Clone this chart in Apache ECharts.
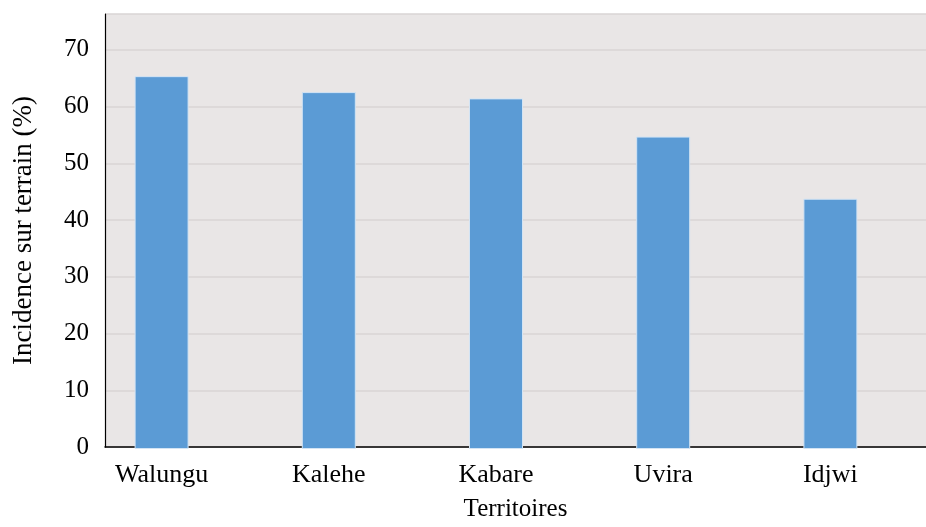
<!DOCTYPE html>
<html>
<head>
<meta charset="utf-8">
<script src="https://cdn.jsdelivr.net/npm/echarts@6/dist/echarts.min.js"></script>
<style>html,body{margin:0;padding:0;background:#fff}#c{width:926px;height:527px}</style>
</head>
<body>
<div id="c"></div>
<script>
const categories = ['Walungu', 'Kalehe', 'Kabare', 'Uvira', 'Idjwi'];
const incidence = [65.4, 62.6, 61.5, 54.8, 43.9];
const yTicks = [0, 10, 20, 30, 40, 50, 60, 70];
const yMax = 76.3;
const yTitle = 'Incidence sur terrain (%)';
const xTitle = 'Territoires';

const font = 'Liberation Serif, Times New Roman, serif';
const chart = echarts.init(document.getElementById('c'));
chart.setOption({
  animation: false,
  backgroundColor: '#ffffff',
  grid: [
    { left: 105, right: 0, top: 14, bottom: 78, show: true, backgroundColor: '#e9e6e6', borderWidth: 0 },
    { left: 78, right: 12, top: 14, bottom: 78 }
  ],
  xAxis: [
    {
      gridIndex: 0, type: 'category', data: categories,
      axisLine: { show: true, lineStyle: { color: '#000', width: 1.5 } },
      axisTick: { show: false }, axisLabel: { show: false },
      name: xTitle, nameLocation: 'middle', nameGap: 50,
      nameTextStyle: { fontFamily: font, fontSize: 25, color: '#000' }
    },
    {
      gridIndex: 1, type: 'category', data: categories,
      axisLine: { show: false }, axisTick: { show: false },
      axisLabel: { fontFamily: font, fontSize: 26, color: '#000', margin: 13 }
    }
  ],
  yAxis: [
    {
      gridIndex: 0, type: 'value', min: 0, max: yMax, interval: 10,
      axisLine: { show: true, lineStyle: { color: '#000', width: 1.2 } },
      axisTick: { show: false },
      axisLabel: {
        fontFamily: font, fontSize: 25, color: '#000', margin: 16,
        formatter: v => yTicks.includes(v) ? String(v) : ''
      },
      splitLine: { show: true, lineStyle: { color: '#d8d4d4', width: 1.5 } },
      name: yTitle, nameLocation: 'middle', nameGap: 68, nameRotate: 90,
      nameTextStyle: { fontFamily: font, fontSize: 27, color: '#000' }
    },
    {
      gridIndex: 1, type: 'value', min: 0, max: yMax, interval: 10,
      axisLine: { show: false }, axisTick: { show: false },
      axisLabel: { show: false }, splitLine: { show: false }
    }
  ],
  series: [{
    type: 'bar', xAxisIndex: 1, yAxisIndex: 1,
    data: incidence, barWidth: 54,
    itemStyle: { color: '#5b9bd5', borderColor: '#d3e4f4', borderWidth: 1 }
  }]
});
</script>
</body>
</html>
